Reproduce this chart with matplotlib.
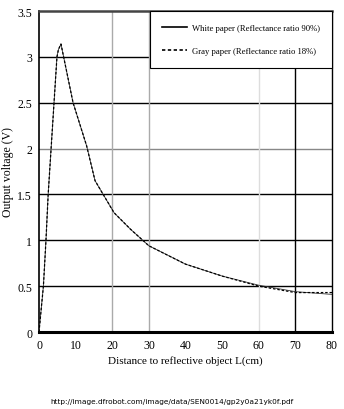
import matplotlib.pyplot as plt
from matplotlib.lines import Line2D

# distance (cm) and output voltage (V)
dist_white = [0, 1.2, 1.9, 2.5, 3.3, 4.1, 4.9, 5.3, 6.0, 9.3, 13.0, 15.3, 20.5, 25, 30, 35, 40, 50, 60, 70, 80]
volt_white = [0.0, 0.5, 1.0, 1.5, 2.0, 2.5, 3.0, 3.08, 3.14, 2.5, 2.03, 1.65, 1.30, 1.12, 0.94, 0.84, 0.74, 0.61, 0.51, 0.44, 0.41]

dist_gray = [0, 1.2, 1.9, 2.5, 3.3, 4.1, 4.9, 5.3, 6.0, 9.3, 13.0, 15.3, 20.5, 25, 30, 35, 40, 50, 60, 70, 80]
volt_gray = [0.0, 0.5, 1.0, 1.5, 2.0, 2.5, 3.0, 3.08, 3.14, 2.5, 2.03, 1.65, 1.30, 1.12, 0.94, 0.84, 0.74, 0.61, 0.50, 0.43, 0.43]

x_ticks = [0, 10, 20, 30, 40, 50, 60, 70, 80]
y_ticks = [0, 0.5, 1, 1.5, 2, 2.5, 3, 3.5]
y_tick_labels = ['0', '0.5', '1', '1.5', '2', '2.5', '3', '3.5']

serif = 'Liberation Serif'

fig = plt.figure(figsize=(3.44, 4.10), dpi=100)
ax = fig.add_axes([0.1134, 0.1878, 0.8517, 0.7829])

# grid lines: a mix of dark and light rules
for y in [0.5, 1, 1.5, 2.5, 3]:
    ax.axhline(y, color='black', lw=1.0, zorder=1)
ax.axhline(2, color='#888888', lw=1.0, zorder=1)
for x, c in [(20, '#aaaaaa'), (30, '#aaaaaa'), (60, '#dddddd'), (70, 'black')]:
    ax.axvline(x, color=c, lw=1.0, zorder=1)

ax.plot(dist_white, volt_white, color='#333333', lw=0.6, zorder=3)
ax.plot(dist_gray, volt_gray, color='black', lw=0.9, ls=(0, (2, 1.5)), zorder=4)

ax.set_xlim(0, 80)
ax.set_ylim(0, 3.5)
ax.set_xticks(x_ticks)
ax.set_yticks(y_ticks)
ax.set_yticklabels(y_tick_labels)
ax.tick_params(length=0, labelsize=8.5, pad=5)
for lab in ax.get_xticklabels() + ax.get_yticklabels():
    lab.set_family(serif)

ax.spines['top'].set_linewidth(1.8)
ax.spines['top'].set_color('#444444')
ax.spines['bottom'].set_linewidth(2.2)
ax.spines['left'].set_linewidth(1.2)
ax.spines['right'].set_linewidth(1.0)

ax.set_xlabel('Distance to reflective object L(cm)', family=serif, fontsize=8, labelpad=3)
ax.set_ylabel('Output voltage (V)', family=serif, fontsize=8.5)
ax.yaxis.set_label_coords(-0.085, 0.5)

handles = [Line2D([], [], color='black', lw=1.2),
           Line2D([], [], color='black', lw=1.2, ls=(0, (2, 1.5)))]
leg = ax.legend(handles, ['White paper (Reflectance ratio 90%)', 'Gray paper (Reflectance ratio 18%)'],
                loc='upper right', borderaxespad=0, fancybox=False, framealpha=1,
                edgecolor='black', prop={'family': serif, 'size': 6.2},
                handlelength=2.9, labelspacing=1.8, borderpad=1.45, handletextpad=0.5)
leg.get_frame().set_linewidth(0.8)
leg.set_zorder(5)

fig.text(0.5, 0.012, 'http://image.dfrobot.com/image/data/SEN0014/gp2y0a21yk0f.pdf',
         ha='center', va='bottom', fontsize=5.3, family='DejaVu Sans')

fig.savefig('out.png', dpi=100)
